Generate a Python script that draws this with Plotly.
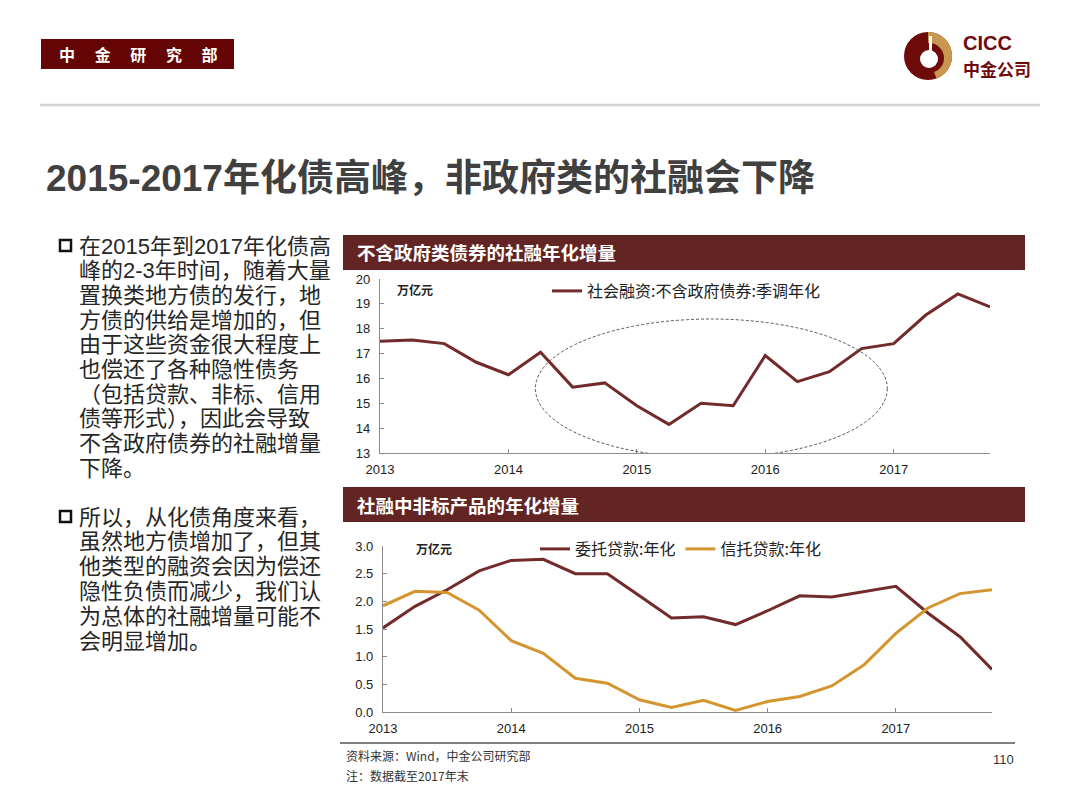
import numpy as np
import plotly.graph_objects as go

# ---------------- data ----------------
quarters = [2013.0, 2013.25, 2013.5, 2013.75,
            2014.0, 2014.25, 2014.5, 2014.75,
            2015.0, 2015.25, 2015.5, 2015.75,
            2016.0, 2016.25, 2016.5, 2016.75,
            2017.0, 2017.25, 2017.5, 2017.75]

tsf_ex_gov = [17.50, 17.55, 17.40, 16.65, 16.15, 17.05, 15.65, 15.82,
              14.90, 14.15, 15.00, 14.90, 16.92, 15.87, 16.27, 17.20,
              17.40, 18.55, 19.40, 18.88]

entrusted = [1.52, 1.91, 2.21, 2.55, 2.74, 2.76, 2.50, 2.50,
             2.10, 1.70, 1.72, 1.58, 1.83, 2.10, 2.08, 2.18,
             2.27, 1.79, 1.36, 0.77]

trust = [1.92, 2.18, 2.16, 1.84, 1.29, 1.06, 0.61, 0.52,
         0.22, 0.08, 0.21, 0.03, 0.19, 0.28, 0.47, 0.85,
         1.42, 1.88, 2.14, 2.21]

year_ticks = [2013, 2014, 2015, 2016, 2017]
year_labels = ["2013", "2014", "2015", "2016", "2017"]

name_top = "社会融资:不含政府债券:季调年化"
name_ent = "委托贷款:年化"
name_trust = "信托贷款:年化"

para1 = ["在2015年到2017年化债高",
         "峰的2-3年时间，随着大量",
         "置换类地方债的发行，地",
         "方债的供给是增加的，但",
         "由于这些资金很大程度上",
         "也偿还了各种隐性债务",
         "（包括贷款、非标、信用",
         "债等形式），因此会导致",
         "不含政府债券的社融增量",
         "下降。"]
para2 = ["所以，从化债角度来看，",
         "虽然地方债增加了，但其",
         "他类型的融资会因为偿还",
         "隐性负债而减少，我们认",
         "为总体的社融增量可能不",
         "会明显增加。"]

# ---------------- styles ----------------
W, H = 1080, 810
OFF = 8  # page body margin in the browser
MAROON = "#722a2a"
GOLD = "#d4952f"
BAR = "#632523"
CJK = "Noto Sans CJK SC"
NARROW = "Liberation Sans Narrow, Arial Narrow, Liberation Sans, Arial"
BODY = "Liberation Sans, " + CJK


def px(x):
    return (x - OFF) / W


def py(y):
    return 1 - (y - OFF) / H


fig = go.Figure()

fig.add_trace(go.Scatter(x=quarters, y=tsf_ex_gov, mode="lines", name=name_top,
                         line=dict(color=MAROON, width=3), xaxis="x", yaxis="y",
                         legend="legend", showlegend=True))
fig.add_trace(go.Scatter(x=quarters, y=entrusted, mode="lines", name=name_ent,
                         line=dict(color=MAROON, width=3), xaxis="x2", yaxis="y2",
                         legend="legend2", showlegend=True))
fig.add_trace(go.Scatter(x=quarters, y=trust, mode="lines", name=name_trust,
                         line=dict(color=GOLD, width=3), xaxis="x2", yaxis="y2",
                         legend="legend2", showlegend=True))

axis_common = dict(showgrid=False, zeroline=False, showline=True, linecolor="#8c8c8c",
                   linewidth=1.2, ticks="inside", ticklen=4, tickcolor="#8c8c8c",
                   automargin=False,
                   tickfont=dict(family=NARROW, size=13, color="#222222"))

fig.update_layout(
    width=W, height=H,
    margin=dict(l=0, r=0, t=0, b=0, pad=0),
    paper_bgcolor="white", plot_bgcolor="white", showlegend=True,
    xaxis=dict(domain=[px(380), px(990)], range=[2013, 2017.75], tickvals=year_ticks,
               ticktext=year_labels, anchor="y", ticklabelstandoff=4, **axis_common),
    yaxis=dict(domain=[py(453), py(279)], range=[13, 20], dtick=1, anchor="x",
               ticklabelstandoff=6, **axis_common),
    xaxis2=dict(domain=[px(383), px(992)], range=[2013, 2017.75], tickvals=year_ticks,
                ticktext=year_labels, anchor="y2", ticklabelstandoff=4, **axis_common),
    yaxis2=dict(domain=[py(712), py(546)], range=[0, 3], dtick=0.5, tickformat=".1f",
                anchor="x2", ticklabelstandoff=6, **axis_common),
    legend=dict(x=px(547), y=py(274), xanchor="left", yanchor="top", orientation="h",
                font=dict(family=CJK, size=16, color="#222222"), bgcolor="rgba(0,0,0,0)",
                itemwidth=30),
    legend2=dict(x=px(535), y=py(532), xanchor="left", yanchor="top", orientation="h",
                 font=dict(family=CJK, size=16, color="#222222"), bgcolor="rgba(0,0,0,0)",
                 itemwidth=30),
)

shapes = []
ann = []


def note(text, x, y, size, color="#222222", family=CJK, xanchor="left", yanchor="middle"):
    ann.append(dict(text=text, x=px(x), y=py(y), xref="paper", yref="paper",
                    xanchor=xanchor, yanchor=yanchor, showarrow=False,
                    font=dict(family=family, size=size, color=color)))


# header red box
shapes.append(dict(type="rect", xref="paper", yref="paper", x0=px(41), x1=px(234),
                   y0=py(69), y1=py(39), fillcolor="#640404", line=dict(width=0)))
note("<b>中\u3000 金\u3000 研\u3000 究\u3000 部</b>", 138, 54, 16, color="white", xanchor="center")

# separator line
shapes.append(dict(type="line", xref="paper", yref="paper", x0=px(40), x1=px(1040),
                   y0=py(105), y1=py(105), line=dict(color="#d3d3d3", width=2.5)))

# logo
cx, cy, r = 928, 56, 24
shapes.append(dict(type="circle", xref="paper", yref="paper", x0=px(cx - r), x1=px(cx + r),
                   y0=py(cy + r), y1=py(cy - r), fillcolor="#6e0b0b", line=dict(width=0)))
ang = np.linspace(np.pi / 2, -np.pi / 2.6, 40)
pts = [(cx, cy)] + [(cx + r * np.cos(a), cy - r * np.sin(a)) for a in ang]
path = "M " + " L ".join(f"{px(x):.5f},{py(y):.5f}" for x, y in pts) + " Z"
shapes.append(dict(type="path", xref="paper", yref="paper", path=path,
                   fillcolor="#c9974f", line=dict(width=0)))
ri = 15
shapes.append(dict(type="circle", xref="paper", yref="paper", x0=px(cx + 1 - ri), x1=px(cx + 1 + ri),
                   y0=py(cy + 2 + ri), y1=py(cy + 2 - ri), fillcolor="#6e0b0b", line=dict(width=0)))
rw = 9
shapes.append(dict(type="circle", xref="paper", yref="paper", x0=px(cx + 1 - rw), x1=px(cx + 1 + rw),
                   y0=py(cy + 3 + rw), y1=py(cy + 3 - rw), fillcolor="white", line=dict(width=0)))
shapes.append(dict(type="rect", xref="paper", yref="paper", x0=px(cx + 1), x1=px(cx + 4),
                   y0=py(cy - 2), y1=py(cy - 20), fillcolor="white", line=dict(width=0)))
note("<b>CICC</b>", 961, 43, 20, color="#6e0b0b", family="Liberation Sans, Arial")
note("<b>中金公司</b>", 961, 69, 17, color="#6e0b0b")

# title
note("<b>2015-2017年化债高峰，非政府类的社融会下降</b>", 44, 178, 37, color="#404040", family=BODY)

# bullet paragraphs
for i, line in enumerate(para1):
    note(line, 77, 246 + i * 24.7, 22, color="#262626", family=BODY)
for i, line in enumerate(para2):
    note(line, 77, 517 + i * 24.8, 22, color="#262626", family=BODY)
for yb in (246, 517):
    shapes.append(dict(type="rect", xref="paper", yref="paper", x0=px(60), x1=px(71),
                       y0=py(yb + 5), y1=py(yb - 6), fillcolor="white",
                       line=dict(color="#111111", width=2.5)))

# panel headers
for y0, y1, txt in ((235, 270, "不含政府类债券的社融年化增量"), (487, 522, "社融中非标产品的年化增量")):
    shapes.append(dict(type="rect", xref="paper", yref="paper", x0=px(343), x1=px(1025),
                       y0=py(y1), y1=py(y0), fillcolor=BAR, line=dict(width=0), layer="below"))
    note("<b>" + txt + "</b>", 355, (y0 + y1) / 2, 18.5, color="white")

# unit labels
note("<b>万亿元</b>", 395, 289, 12)
note("<b>万亿元</b>", 414, 548, 12)

# dashed ellipse highlight
shapes.append(dict(type="circle", xref="x", yref="y", x0=2014.21, x1=2016.95, y0=12.8, y1=18.39,
                   line=dict(color="#555555", width=1, dash="3px,2px")))

# footer
shapes.append(dict(type="line", xref="paper", yref="paper", x0=px(340), x1=px(1015),
                   y0=py(743), y1=py(743), line=dict(color="#808080", width=2)))
note("资料来源：Wind，中金公司研究部", 344, 755, 12, color="#333333")
note("注：数据截至2017年末", 344, 775, 12, color="#333333")
note("110", 1016, 759, 13, color="#333333", family=NARROW, xanchor="right")

fig.update_layout(shapes=shapes, annotations=ann)
fig.write_html("out.html")
